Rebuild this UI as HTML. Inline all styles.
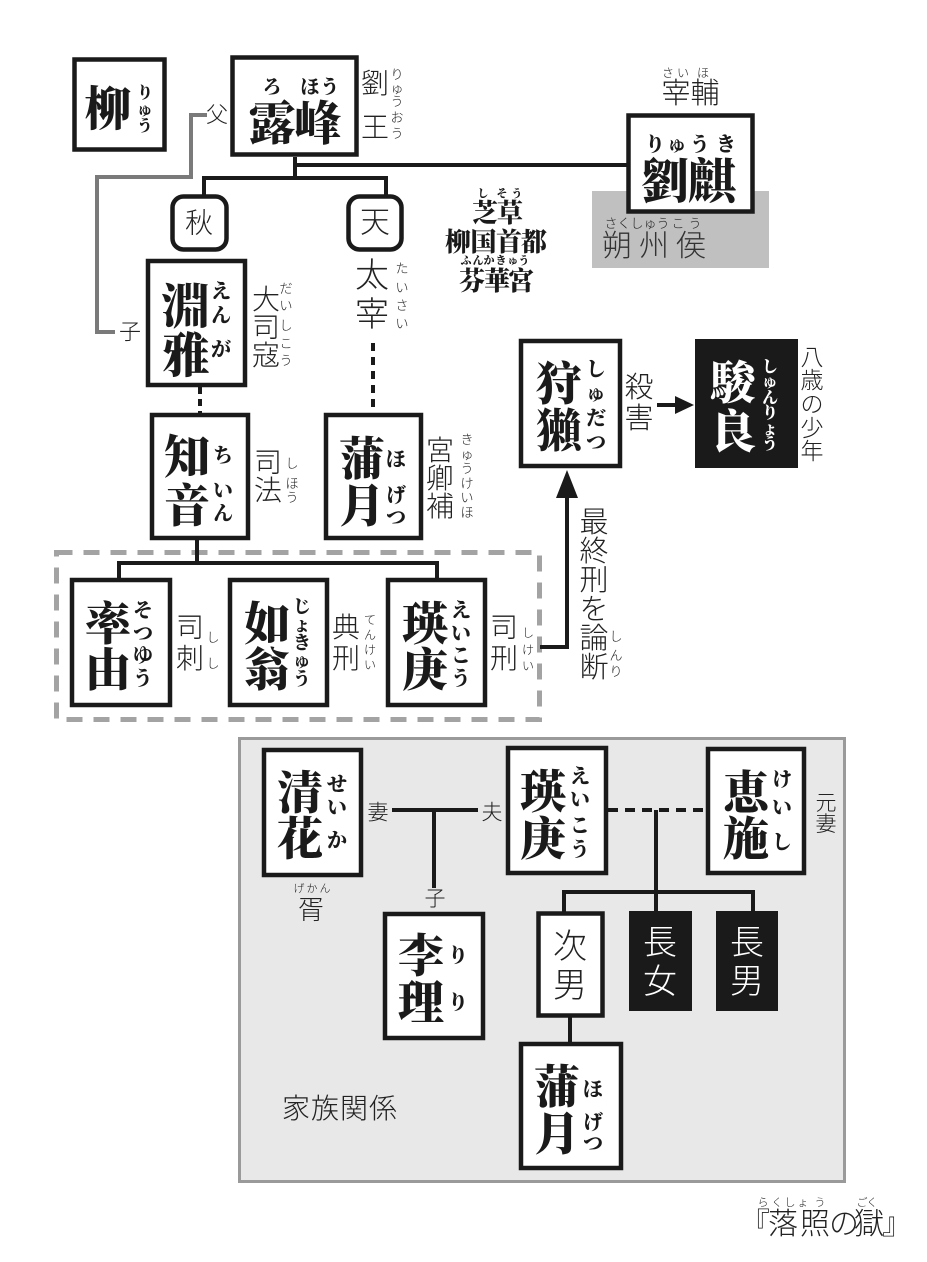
<!DOCTYPE html>
<html><head><meta charset="utf-8">
<style>
html,body{margin:0;padding:0;background:#fff;}
svg{display:block}
.n{font-family:"Noto Serif CJK SC","Noto Serif CJK JP",serif;font-weight:900;fill:#1a1a1a}
.w{fill:#fff}
.s{font-family:"Liberation Sans","Noto Sans CJK JP",sans-serif;font-weight:300;fill:#222}
text{text-anchor:middle;dominant-baseline:central}
.ln{stroke:#1a1a1a;stroke-width:4;fill:none}
.bx{fill:#fff;stroke:#1a1a1a;stroke-width:4.5}
</style></head><body>
<svg width="927" height="1262" viewBox="0 0 927 1262" xmlns="http://www.w3.org/2000/svg">
<rect x="0" y="0" width="927" height="1262" fill="#fff"/>

<!-- backgrounds -->
<rect x="592" y="191" width="177" height="77" fill="#c0c0c0"/>
<rect x="239.5" y="738.5" width="605" height="443" fill="#e8e8e8" stroke="#9a9a9a" stroke-width="3"/>
<rect x="56.5" y="552.5" width="483" height="167" fill="none" stroke="#a3a3a3" stroke-width="5" stroke-dasharray="16 11"/>

<!-- connectors -->
<polyline points="207,115 191,115 191,177 97,177 97,332 115,332" fill="none" stroke="#7a7a7a" stroke-width="4"/>
<path class="ln" d="M295 157 V178 M295 165 H628 M204 196 V178 H386 V196"/>
<path class="ln" d="M200 387 V413" stroke-dasharray="7 5"/>
<path class="ln" d="M373 343 V413" stroke-dasharray="8 6"/>
<path class="ln" d="M197 540 V563 M119 580 V563 H437 V580"/>
<path class="ln" d="M540 647 H567 V495" stroke-width="5"/>
<polygon points="556,498 567,470 578,498" fill="#1a1a1a"/>
<path class="ln" d="M657 405 H678" stroke-width="5"/>
<polygon points="675,396 694,405 675,414" fill="#1a1a1a"/>
<path class="ln" d="M392 810 H478 M434 810 V888 M656 810 V912 M564 913 V892 H753 V913 M570 1017 V1044"/>
<path class="ln" d="M608 810 H706" stroke-dasharray="10 7"/>

<!-- boxes -->
<rect x="74.5" y="59.5" width="90" height="90" class="bx" stroke-width="3"/>
<rect x="232.5" y="57.5" width="124" height="97" class="bx" stroke-width="5"/>
<rect x="628.5" y="115.5" width="124" height="96" class="bx" stroke-width="5"/>
<rect x="172.5" y="196.5" width="54" height="53" rx="11" class="bx" stroke-width="3"/>
<rect x="348.5" y="196.5" width="53" height="53" rx="11" class="bx" stroke-width="3"/>
<rect x="148" y="261" width="97" height="124" class="bx"/>
<rect x="152" y="415" width="96" height="123" class="bx"/>
<rect x="326" y="415" width="95" height="123" class="bx"/>
<rect x="521" y="341" width="99" height="125" class="bx"/>
<rect x="695" y="339" width="103" height="129" fill="#1a1a1a"/>
<rect x="72" y="580" width="98" height="125" class="bx"/>
<rect x="230" y="580" width="97" height="125" class="bx"/>
<rect x="388" y="580" width="97" height="125" class="bx"/>
<rect x="264" y="750" width="97" height="125" class="bx"/>
<rect x="508" y="748" width="98" height="125" class="bx"/>
<rect x="708" y="749" width="96" height="124" class="bx"/>
<rect x="385" y="914" width="98" height="124" class="bx"/>
<rect x="538.5" y="913.5" width="64" height="102" class="bx" stroke-width="3"/>
<rect x="629" y="911" width="63" height="100" fill="#1a1a1a"/>
<rect x="716" y="911" width="62" height="100" fill="#1a1a1a"/>
<rect x="521" y="1044" width="100" height="124" class="bx"/>

<!-- 柳 -->
<text class="n" x="108" y="106" font-size="47">柳</text>
<text class="n" font-size="16"><tspan x="145" y="91">り</tspan><tspan x="145" y="108">ゅ</tspan><tspan x="145" y="124">う</tspan></text>

<!-- 露峰 -->
<text class="n" font-size="19"><tspan x="272" y="85">ろ</tspan><tspan x="310" y="85">ほ</tspan><tspan x="330" y="85">う</tspan></text>
<text class="n" font-size="47"><tspan x="272" y="120">露</tspan><tspan x="318" y="120">峰</tspan></text>
<text class="s" font-size="28"><tspan x="375" y="83">劉</tspan><tspan x="375" y="127">王</tspan></text>
<text class="s" font-size="13"><tspan x="397" y="74">り</tspan><tspan x="397" y="88">ゅ</tspan><tspan x="397" y="101">う</tspan><tspan x="397" y="117">お</tspan><tspan x="397" y="133">う</tspan></text>
<text class="s" x="217" y="115" font-size="22">父</text>
<text class="s" x="130" y="332" font-size="22">子</text>
<text class="s" x="199" y="223" font-size="28">秋</text>
<text class="s" x="375" y="223" font-size="30">天</text>

<!-- 劉麒 -->
<text class="s" font-size="12"><tspan x="668" y="73">さ</tspan><tspan x="683" y="73">い</tspan><tspan x="703" y="73">ほ</tspan></text>
<text class="s" font-size="29"><tspan x="676" y="94">宰</tspan><tspan x="705" y="94">輔</tspan></text>
<text class="n" font-size="20"><tspan x="655" y="142">り</tspan><tspan x="677" y="142">ゅ</tspan><tspan x="700" y="142">う</tspan><tspan x="726" y="142">き</tspan></text>
<text class="n" font-size="48"><tspan x="665" y="177">劉</tspan><tspan x="712" y="177">麒</tspan></text>
<text class="s" font-size="13" fill="#333"><tspan x="611" y="223">さ</tspan><tspan x="624" y="223">く</tspan><tspan x="637" y="223">し</tspan><tspan x="650" y="223">ゅ</tspan><tspan x="663" y="223">う</tspan><tspan x="678" y="223">こ</tspan><tspan x="695" y="223">う</tspan></text>
<text class="s" font-size="30" style="fill:#333"><tspan x="617" y="246">朔</tspan><tspan x="654" y="246">州</tspan><tspan x="691" y="246">侯</tspan></text>

<!-- 芝草 -->
<text class="n" font-size="11"><tspan x="483" y="193">し</tspan><tspan x="502" y="193">そ</tspan><tspan x="517" y="193">う</tspan></text>
<text class="n" font-size="26"><tspan x="485" y="211">芝</tspan><tspan x="510" y="211">草</tspan></text>
<text class="n" font-size="26"><tspan x="458" y="240">柳</tspan><tspan x="483.5" y="240">国</tspan><tspan x="509" y="240">首</tspan><tspan x="534" y="240">都</tspan></text>
<text class="n" font-size="11"><tspan x="466" y="260">ふ</tspan><tspan x="478" y="260">ん</tspan><tspan x="489" y="260">か</tspan><tspan x="501" y="260">き</tspan><tspan x="513" y="260">ゅ</tspan><tspan x="524" y="260">う</tspan></text>
<text class="n" font-size="26"><tspan x="472" y="279">芬</tspan><tspan x="497" y="279">華</tspan><tspan x="521" y="279">宮</tspan></text>

<!-- 淵雅 -->
<text class="n" font-size="48"><tspan x="186" y="302">淵</tspan><tspan x="186" y="351">雅</tspan></text>
<text class="n" font-size="20"><tspan x="221" y="289">え</tspan><tspan x="221" y="313">ん</tspan><tspan x="221" y="347">が</tspan></text>
<text class="s" font-size="28"><tspan x="266" y="299">大</tspan><tspan x="266" y="327">司</tspan><tspan x="266" y="355">寇</tspan></text>
<text class="s" font-size="13"><tspan x="286" y="288">だ</tspan><tspan x="286" y="305">い</tspan><tspan x="286" y="325">し</tspan><tspan x="286" y="343">こ</tspan><tspan x="286" y="360">う</tspan></text>

<!-- 太宰 -->
<text class="s" font-size="34"><tspan x="372" y="276">太</tspan><tspan x="372" y="315">宰</tspan></text>
<text class="s" font-size="13"><tspan x="402" y="268">た</tspan><tspan x="402" y="287">い</tspan><tspan x="402" y="305">さ</tspan><tspan x="402" y="323">い</tspan></text>

<!-- 知音 -->
<text class="n" font-size="46"><tspan x="187" y="454">知</tspan><tspan x="187" y="503">音</tspan></text>
<text class="n" font-size="20"><tspan x="223" y="453">ち</tspan><tspan x="223" y="488">い</tspan><tspan x="223" y="511">ん</tspan></text>
<text class="s" font-size="28"><tspan x="268" y="462">司</tspan><tspan x="268" y="490">法</tspan></text>
<text class="s" font-size="13"><tspan x="292" y="463">し</tspan><tspan x="292" y="483">ほ</tspan><tspan x="292" y="497">う</tspan></text>

<!-- 蒲月 -->
<text class="n" font-size="46"><tspan x="362" y="456">蒲</tspan><tspan x="362" y="503">月</tspan></text>
<text class="n" font-size="20"><tspan x="396" y="457">ほ</tspan><tspan x="396" y="493">げ</tspan><tspan x="396" y="515">つ</tspan></text>
<text class="s" font-size="28"><tspan x="440" y="450">宮</tspan><tspan x="440" y="478">卿</tspan><tspan x="440" y="506">補</tspan></text>
<text class="s" font-size="13"><tspan x="467" y="439">き</tspan><tspan x="467" y="454">ゅ</tspan><tspan x="467" y="468">う</tspan><tspan x="467" y="483">け</tspan><tspan x="467" y="497">い</tspan><tspan x="467" y="512">ほ</tspan></text>

<!-- 狩獺 -->
<text class="n" font-size="46"><tspan x="559" y="381">狩</tspan><tspan x="559" y="428">獺</tspan></text>
<text class="n" font-size="20"><tspan x="596" y="367">し</tspan><tspan x="596" y="391">ゅ</tspan><tspan x="596" y="416">だ</tspan><tspan x="596" y="440">つ</tspan></text>
<text class="s" font-size="29"><tspan x="639" y="388">殺</tspan><tspan x="639" y="419">害</tspan></text>

<!-- 駿良 -->
<text class="n w" font-size="46"><tspan x="733" y="380">駿</tspan><tspan x="733" y="429">良</tspan></text>
<text class="n w" font-size="16"><tspan x="770" y="365">し</tspan><tspan x="770" y="380">ゅ</tspan><tspan x="770" y="396">ん</tspan><tspan x="770" y="411">り</tspan><tspan x="770" y="427">ょ</tspan><tspan x="770" y="442">う</tspan></text>
<text class="s" font-size="23"><tspan x="812" y="357">八</tspan><tspan x="812" y="380">歳</tspan><tspan x="812" y="404">の</tspan><tspan x="812" y="428">少</tspan><tspan x="812" y="451">年</tspan></text>

<!-- 最終刑を論断 -->
<text class="s" font-size="29"><tspan x="594" y="523">最</tspan><tspan x="594" y="552">終</tspan><tspan x="594" y="581">刑</tspan><tspan x="594" y="610">を</tspan><tspan x="594" y="639">論</tspan><tspan x="594" y="668">断</tspan></text>
<text class="s" font-size="13"><tspan x="616" y="636">し</tspan><tspan x="616" y="655">ん</tspan><tspan x="616" y="671">り</tspan></text>

<!-- 率由 -->
<text class="n" font-size="46"><tspan x="108" y="621">率</tspan><tspan x="108" y="667">由</tspan></text>
<text class="n" font-size="20"><tspan x="143" y="608">そ</tspan><tspan x="143" y="631">つ</tspan><tspan x="143" y="653">ゆ</tspan><tspan x="143" y="676">う</tspan></text>
<text class="s" font-size="28"><tspan x="190" y="627">司</tspan><tspan x="190" y="658">刺</tspan></text>
<text class="s" font-size="13"><tspan x="213" y="637">し</tspan><tspan x="213" y="663">し</tspan></text>

<!-- 如翁 -->
<text class="n" font-size="46"><tspan x="267" y="621">如</tspan><tspan x="267" y="667">翁</tspan></text>
<text class="n" font-size="18"><tspan x="302" y="606">じ</tspan><tspan x="302" y="624">ょ</tspan><tspan x="302" y="642">き</tspan><tspan x="302" y="660">ゅ</tspan><tspan x="302" y="678">う</tspan></text>
<text class="s" font-size="28"><tspan x="346" y="627">典</tspan><tspan x="346" y="658">刑</tspan></text>
<text class="s" font-size="12"><tspan x="370" y="620">て</tspan><tspan x="370" y="635">ん</tspan><tspan x="370" y="650">け</tspan><tspan x="370" y="665">い</tspan></text>

<!-- 瑛庚 -->
<text class="n" font-size="46"><tspan x="425" y="621">瑛</tspan><tspan x="425" y="667">庚</tspan></text>
<text class="n" font-size="20"><tspan x="461" y="608">え</tspan><tspan x="461" y="631">い</tspan><tspan x="461" y="653">こ</tspan><tspan x="461" y="676">う</tspan></text>
<text class="s" font-size="28"><tspan x="504" y="627">司</tspan><tspan x="504" y="658">刑</tspan></text>
<text class="s" font-size="12"><tspan x="528" y="633">し</tspan><tspan x="528" y="650">け</tspan><tspan x="528" y="666">い</tspan></text>

<!-- family: 清花 -->
<text class="n" font-size="46"><tspan x="300" y="790">清</tspan><tspan x="300" y="836">花</tspan></text>
<text class="n" font-size="20"><tspan x="337" y="782">せ</tspan><tspan x="337" y="805">い</tspan><tspan x="337" y="838">か</tspan></text>
<text class="s" x="378" y="813" font-size="21">妻</text>
<text class="s" x="492" y="813" font-size="21">夫</text>
<text class="s" x="435" y="899" font-size="21">子</text>
<text class="s" font-size="11"><tspan x="299" y="889">げ</tspan><tspan x="312" y="889">か</tspan><tspan x="325" y="889">ん</tspan></text>
<text class="s" x="311" y="910" font-size="26">胥</text>

<!-- family: 瑛庚 -->
<text class="n" font-size="46"><tspan x="543" y="789">瑛</tspan><tspan x="543" y="836">庚</tspan></text>
<text class="n" font-size="20"><tspan x="580" y="774">え</tspan><tspan x="580" y="797">い</tspan><tspan x="580" y="823">こ</tspan><tspan x="580" y="847">う</tspan></text>

<!-- family: 恵施 -->
<text class="n" font-size="46"><tspan x="746" y="790">恵</tspan><tspan x="746" y="836">施</tspan></text>
<text class="n" font-size="20"><tspan x="782" y="777">け</tspan><tspan x="782" y="805">い</tspan><tspan x="782" y="840">し</tspan></text>
<text class="s" font-size="21"><tspan x="826" y="803">元</tspan><tspan x="826" y="824">妻</tspan></text>

<!-- 李理 -->
<text class="n" font-size="46"><tspan x="421" y="953">李</tspan><tspan x="421" y="1000">理</tspan></text>
<text class="n" font-size="20"><tspan x="458" y="953">り</tspan><tspan x="458" y="1000">り</tspan></text>

<!-- children -->
<text class="s" font-size="34"><tspan x="570" y="947">次</tspan><tspan x="570" y="986">男</tspan></text>
<text class="s w" font-size="34" style="fill:#fff"><tspan x="660" y="943">長</tspan><tspan x="660" y="982">女</tspan></text>
<text class="s w" font-size="34" style="fill:#fff"><tspan x="747" y="943">長</tspan><tspan x="747" y="982">男</tspan></text>

<!-- 蒲月 family -->
<text class="n" font-size="46"><tspan x="557" y="1084">蒲</tspan><tspan x="557" y="1131">月</tspan></text>
<text class="n" font-size="20"><tspan x="593" y="1087">ほ</tspan><tspan x="593" y="1120">げ</tspan><tspan x="593" y="1141">つ</tspan></text>

<text class="s" font-size="28"><tspan x="296" y="1108">家</tspan><tspan x="325" y="1108">族</tspan><tspan x="354" y="1108">関</tspan><tspan x="383" y="1108">係</tspan></text>

<!-- title -->
<text class="s" font-size="11"><tspan x="763" y="1203">ら</tspan><tspan x="777" y="1203">く</tspan><tspan x="790" y="1203">し</tspan><tspan x="803" y="1203">ょ</tspan><tspan x="820" y="1203">う</tspan><tspan x="862" y="1203">ご</tspan><tspan x="872" y="1203">く</tspan></text>
<text class="s" font-size="30"><tspan x="755" y="1224">『</tspan><tspan x="783" y="1224">落</tspan><tspan x="815" y="1224">照</tspan><tspan x="844" y="1224">の</tspan><tspan x="869" y="1224">獄</tspan><tspan x="897" y="1224">』</tspan></text>
</svg>
</body></html>
